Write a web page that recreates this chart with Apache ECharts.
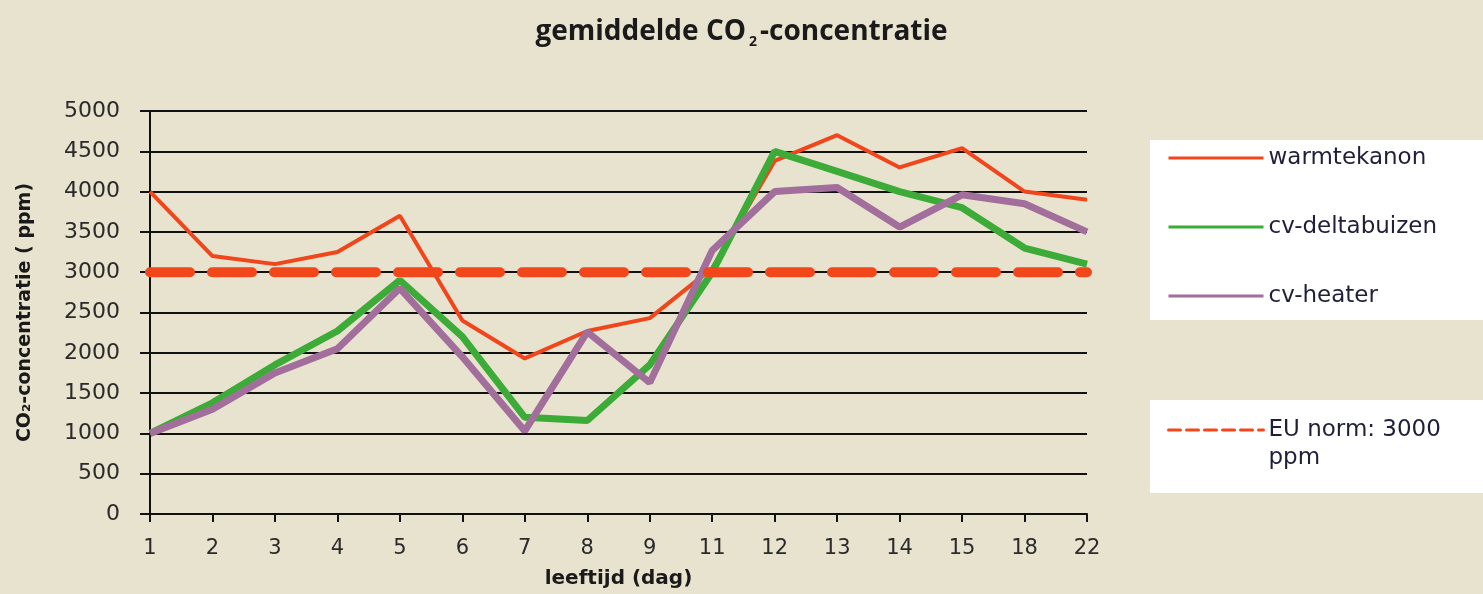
<!DOCTYPE html>
<html>
<head>
<meta charset="utf-8">
<script src="https://cdn.jsdelivr.net/npm/echarts@6/dist/echarts.min.js"></script>
<style>
  html, body { margin: 0; padding: 0; background: #e8e3ce; }
  #chart { width: 1483px; height: 594px; }
</style>
</head>
<body>
<div id="chart"></div>
<script>
// leeftijd in dagen
const days = ['1', '2', '3', '4', '5', '6', '7', '8', '9', '11', '12', '13', '14', '15', '18', '22']
const warmtekanon = [4000, 3200, 3100, 3250, 3700, 2400, 1930, 2270, 2430, 3050, 4380, 4700, 4300, 4540, 4000, 3900]
const cvDeltabuizen = [1000, 1380, 1850, 2270, 2900, 2200, 1200, 1160, 1850, 3000, 4500, 4250, 4000, 3800, 3300, 3100]
const cvHeater = [1000, 1300, 1750, 2050, 2800, 1950, 1030, 2260, 1630, 3270, 4000, 4050, 3560, 3960, 3850, 3500]
const euNorm = days.map(() => 3000)
const yTicks = { min: 0, max: 5000, step: 500 }

const mychart = echarts.init(document.getElementById('chart'))

const legendText = {
  fontFamily: 'DejaVu Sans',
  fontSize: 23,
  color: '#1f1f3a'
}
// alleen de lijn in de legenda, geen bolletje
const noDot = { opacity: 0 }

const option = {
  backgroundColor: '#e8e3ce',
  animation: false,
  title: {
    left: 'center',
    top: 10,
    text: '{a|gemiddelde CO}{s|2}{a|-concentratie}',
    textStyle: {
      rich: {
        a: { fontFamily: 'Open Sans', fontWeight: 'bold', fontSize: 28, color: '#1a1a1a' },
        s: { fontFamily: 'Open Sans', fontWeight: 'bold', fontSize: 14, color: '#1a1a1a', padding: [20, 3, 0, 3] }
      }
    }
  },
  graphic: [
    { type: 'rect', z: 1, shape: { x: 1150, y: 140, width: 333, height: 180 }, style: { fill: '#ffffff' } },
    { type: 'rect', z: 1, shape: { x: 1150, y: 400, width: 333, height: 93 }, style: { fill: '#ffffff' } }
  ],
  legend: [
    {
      z: 5,
      orient: 'vertical',
      left: 1167,
      top: 146,
      padding: 0,
      itemWidth: 95,
      itemHeight: 24,
      itemGap: 45,
      selectedMode: false,
      textStyle: { ...legendText, lineHeight: 24 },
      data: [
        { name: 'warmtekanon', itemStyle: noDot, lineStyle: { width: 3 } },
        { name: 'cv-deltabuizen', itemStyle: noDot, lineStyle: { width: 3 } },
        { name: 'cv-heater', itemStyle: noDot, lineStyle: { width: 3 } }
      ]
    },
    {
      z: 5,
      orient: 'vertical',
      left: 1167,
      top: 388,
      padding: 0,
      itemWidth: 95,
      itemHeight: 24,
      selectedMode: false,
      textStyle: { ...legendText, lineHeight: 28 },
      formatter: function () {
        return ' \nEU norm: 3000\nppm'
      },
      data: [
        { name: 'EU norm', itemStyle: noDot, lineStyle: { width: 3, type: [12, 6] } }
      ]
    }
  ],
  grid: {
    left: 150,
    right: 396,
    top: 111,
    bottom: 80
  },
  xAxis: {
    type: 'category',
    boundaryGap: false,
    data: days,
    name: 'leeftijd (dag)',
    nameLocation: 'middle',
    nameGap: 55,
    nameTextStyle: { fontFamily: 'DejaVu Sans', fontWeight: 'bold', fontSize: 20, color: '#1a1a1a' },
    axisLine: { lineStyle: { color: '#111', width: 2 } },
    axisTick: { show: true, length: 8, lineStyle: { color: '#111', width: 2 } },
    axisLabel: { margin: 24, fontFamily: 'DejaVu Sans', fontSize: 21, color: '#2a2a2a' },
    splitLine: { show: false }
  },
  yAxis: {
    type: 'value',
    min: yTicks.min,
    max: yTicks.max,
    interval: yTicks.step,
    name: 'CO₂-concentratie ( ppm)',
    nameLocation: 'middle',
    nameGap: 115,
    nameTextStyle: { fontFamily: 'DejaVu Sans', fontWeight: 'bold', fontSize: 19, color: '#1a1a1a' },
    axisLine: { show: true, lineStyle: { color: '#111', width: 2 } },
    axisTick: { show: true, length: 10, lineStyle: { color: '#111', width: 2 } },
    axisLabel: {
      margin: 30,
      fontFamily: 'DejaVu Sans',
      fontSize: 22,
      color: '#2a2a2a',
      formatter: (v) => String(v)
    },
    splitLine: { show: true, lineStyle: { color: '#111', width: 2 } }
  },
  series: [
    {
      name: 'warmtekanon',
      type: 'line',
      symbol: 'none',
      color: '#f1451c',
      lineStyle: { width: 4, color: '#f1451c' },
      data: warmtekanon
    },
    {
      name: 'cv-deltabuizen',
      type: 'line',
      symbol: 'none',
      color: '#3cab38',
      lineStyle: { width: 7, color: '#3cab38' },
      data: cvDeltabuizen
    },
    {
      name: 'cv-heater',
      type: 'line',
      symbol: 'none',
      color: '#a26e9c',
      lineStyle: { width: 7, color: '#a26e9c' },
      data: cvHeater
    },
    {
      name: 'EU norm',
      type: 'line',
      symbol: 'none',
      color: '#f2461b',
      lineStyle: { width: 10, color: '#f2461b', type: [40, 22], cap: 'round' },
      data: euNorm
    }
  ]
}

option && mychart.setOption(option)
</script>
</body>
</html>
